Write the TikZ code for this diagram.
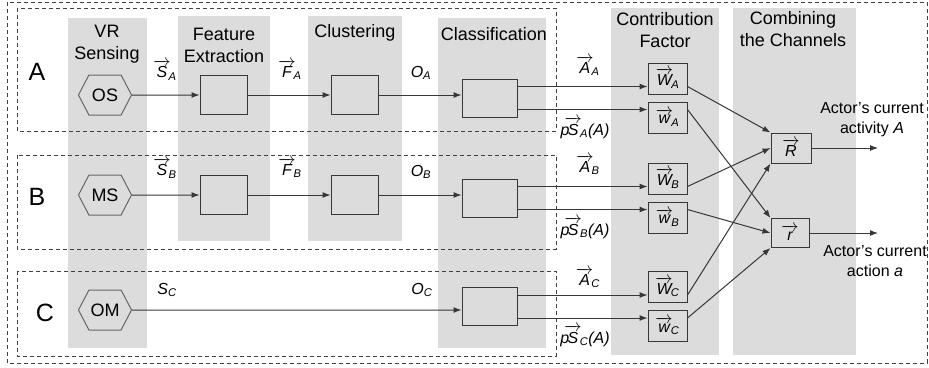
\documentclass[tikz,border=0pt]{standalone}
\usepackage{amsmath}
\usepackage{fontspec}
\setmainfont{Liberation Sans}
\usetikzlibrary{positioning,shapes.symbols,arrows.meta}

\definecolor{colgray}{RGB}{220,220,220}
\definecolor{linegray}{RGB}{55,55,55}

\newcommand{\vlab}[2]{$\overrightarrow{\textit{#1}}_{\!\textit{#2}}$}
\newcommand{\plab}[1]{$\textit{p}\mkern-5mu\overrightarrow{\textit{S}}_{\!\textit{#1}}\textit{(A)}$}

\tikzset{
  column/.style = {fill = colgray, draw = none},
  coltitle/.style = {align = center, font = \fontsize{18}{22}\selectfont, inner sep = 0pt},
  rowname/.style = {font = \fontsize{25}{28}\selectfont, inner sep = 0pt},
  sensor/.style = {shape = signal, signal to = west and east, signal pointer angle = 125, draw = black!60, line width = 1pt, minimum width = 53pt, minimum height = 40pt, inner sep = 0pt, font = \fontsize{18}{21}\selectfont},
  procbox/.style = {draw = linegray, line width = 1pt, minimum width = 47pt, minimum height = 39pt},
  clsbox/.style = {procbox, minimum width = 55pt, minimum height = 38pt},
  wbox/.style = {draw = linegray, line width = 1pt, minimum width = 39pt, minimum height = 31pt, inner sep = 0pt, font = \fontsize{16}{18}\selectfont},
  chan/.style = {draw = black!75, dash pattern = on 4pt off 3pt, line width = 0.8pt},
  flow/.style = {draw = linegray, line width = 1pt, -{Latex[length=8pt,width=6pt]}},
  lab/.style = {font = \fontsize{16}{18}\selectfont, inner sep = 0pt},
  outlab/.style = {align = center, font = \fontsize{16}{20}\selectfont, inner sep = 0pt},
}

\begin{document}
\begin{tikzpicture}[x = 1pt, y = -1pt]
\useasboundingbox (0,0) rectangle (929,367);

% grey columns
\fill[column] (68,18) rectangle (147,348);
\fill[column] (178,16) rectangle (270,241);
\fill[column] (308,16) rectangle (402,241);
\fill[column] (438,18) rectangle (546,348);
\fill[column] (611,8) rectangle (719,355);
\fill[column] (733,8) rectangle (856,355);

% channel frames
\draw[chan] (7,2) rectangle (927,363);
\draw[chan] (17,8) rectangle (556,131);
\draw[chan] (17,155) rectangle (556,249);
\draw[chan] (17,271) rectangle (556,356);

% titles
\node[coltitle] (tVR) at (107,44) {VR\\Sensing};
\node[coltitle] (tFE) at (224,45) {Feature\\Extraction};
\node[coltitle] (tCl) at (355,33) {Clustering};
\node[coltitle] (tCs) at (494,34) {Classification};
\node[coltitle] (tCF) at (665,30) {Contribution\\Factor};
\node[coltitle] (tCC) at (793,29) {Combining\\the Channels};

\node[rowname] (nA) at (37,72) {A};
\node[rowname] (nB) at (37,197) {B};
\node[rowname] (nC) at (45,313) {C};

% channel A
\node[sensor] (osA) at (105,95) {OS};
\node[procbox] (feA) at (223.5,95) {};
\node[procbox] (clA) at (354.5,95) {};
\node[clsbox] (csA) at (489.5,98) {};
\node[wbox] (WA) at (667.5,78.5) {\vlab{W}{A}};
\node[wbox] (wA) at (667.5,117.5) {\vlab{w}{A}};

% channel B
\node[sensor] (msB) at (105,195) {MS};
\node[procbox] (feB) at (223.5,195) {};
\node[procbox] (clB) at (354.5,195) {};
\node[clsbox] (csB) at (489.5,198) {};
\node[wbox] (WB) at (667.5,178.5) {\vlab{W}{B}};
\node[wbox] (wB) at (667.5,217.5) {\vlab{w}{B}};

% channel C
\node[sensor] (omC) at (105,310) {OM};
\node[clsbox] (csC) at (489.5,306.5) {};
\node[wbox] (WC) at (667.5,287) {\vlab{W}{C}};
\node[wbox] (wC) at (667.5,326) {\vlab{w}{C}};

% combining
\node[wbox, minimum width = 40pt, minimum height = 30pt] (R) at (791,148) {$\overrightarrow{\textit{R}}$};
\node[wbox, minimum width = 38pt, minimum height = 29pt] (r) at (790,233) {$\overrightarrow{\textit{r}}$};
\coordinate (outR) at (878,148);
\coordinate (outr) at (878,233);

% flows
\draw[flow] (osA) -- (feA);
\draw[flow] (feA) -- (clA);
\draw[flow] (clA) -- (csA.west |- clA.east);
\draw[flow] (msB) -- (feB);
\draw[flow] (feB) -- (clB);
\draw[flow] (clB) -- (csB.west |- clB.east);
\draw[flow] (omC) -- (csC.west |- omC.east);

\draw[flow] ([yshift=11.5pt]csA.east) coordinate (aA) -- (aA -| WA.west);
\draw[flow] ([yshift=-11.5pt]csA.east) coordinate (pA) -- (pA -| wA.west);
\draw[flow] ([yshift=11.5pt]csB.east) coordinate (aB) -- (aB -| WB.west);
\draw[flow] ([yshift=-11.5pt]csB.east) coordinate (pB) -- (pB -| wB.west);
\draw[flow] ([yshift=11.5pt]csC.east) coordinate (aC) -- (aC -| WC.west);
\draw[flow] ([yshift=-11.5pt]csC.east) coordinate (pC) -- (pC -| wC.west);

\draw[flow] (aA -| WA.east) -- (R.north west);
\draw[flow] (aB -| WB.east) -- (R.west);
\draw[flow] (aC -| WC.east) -- (R.south west);
\draw[flow] (pA -| wA.east) -- (r.north west);
\draw[flow] (pB -| wB.east) -- (r.west);
\draw[flow] (pC -| wC.east) -- (r.south west);

\draw[flow] (R) -- (outR);
\draw[flow] (r) -- (outr);

% labels
\node[lab] (lSA) at (165,70) {\vlab{S}{A}};
\node[lab] (lFA) at (290,70) {\vlab{F}{A}};
\node[lab] (lOA) at (421,73) {\textit{O}$_{\textit{A}}$};
\node[lab] (lSB) at (165,168) {\vlab{S}{B}};
\node[lab] (lFB) at (290,168) {\vlab{F}{B}};
\node[lab] (lOB) at (421,172) {\textit{O}$_{\textit{B}}$};
\node[lab] (lSC) at (167,290) {\textit{S}$_{\textit{C}}$};
\node[lab] (lOC) at (422,290) {\textit{O}$_{\textit{C}}$};

\node[lab] (lAA) at (588,66) {\vlab{A}{A}};
\node[lab] (lpA) at (585,128) {\plab{A}};
\node[lab] (lAB) at (588,165) {\vlab{A}{B}};
\node[lab] (lpB) at (585,228) {\plab{B}};
\node[lab] (lAC) at (588,278) {\vlab{A}{C}};
\node[lab] (lpC) at (585,336) {\plab{C}};

\node[outlab] (actA) at (872,120) {Actor’s current\\activity \textit{A}};
\node[outlab] (acta) at (875,261) {Actor’s current\\action \textit{a}};
\end{tikzpicture}
\end{document}
